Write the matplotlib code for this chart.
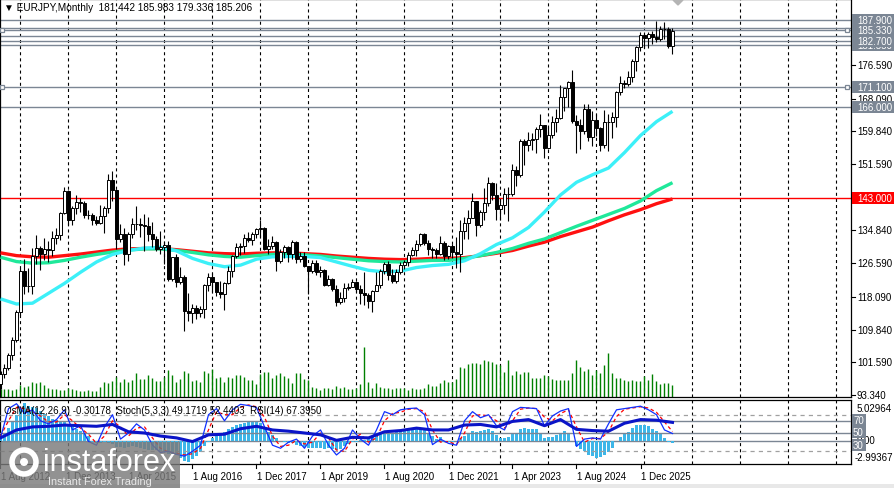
import matplotlib
matplotlib.use('Agg')
import matplotlib.pyplot as plt
import matplotlib.transforms as mtrans
from matplotlib.patches import Rectangle, Circle, Polygon
from matplotlib.lines import Line2D

plt.rcParams['font.family'] = ['Liberation Sans', 'DejaVu Sans']
plt.rcParams['lines.scale_dashes'] = False

# ---- EURJPY monthly, bar 0 = Aug 2012 ----
open_first = 96.2
closes = [
    98.6, 100.2, 103.4, 107.2, 114.4,
    124.5, 120.8, 120.8, 128.3, 130.5, 129.0, 130.1, 129.8, 133.0, 133.6, 139.2, 144.8,
    137.6, 140.6, 142.1, 141.8, 138.8, 138.7, 137.6, 136.7, 138.4, 140.6, 147.7, 145.0,
    132.6, 134.0, 128.9, 134.0, 136.4, 136.5, 136.1, 135.9, 133.9, 132.7, 130.1, 130.6,
    131.2, 122.5, 128.1, 121.9, 123.2, 114.6, 114.0, 115.4, 113.9, 115.1, 121.2, 123.0,
    121.8, 119.2, 118.7, 121.5, 124.5, 128.3, 130.6, 131.0, 132.9, 132.4, 133.9, 135.2,
    135.5, 130.1, 131.0, 132.0, 127.2, 129.3, 130.8, 128.8, 131.9, 127.7, 128.5, 125.8,
    124.7, 126.7, 124.4, 124.9, 121.0, 122.7, 120.2, 116.8, 117.8, 120.4, 120.7, 121.9,
    120.2, 119.0, 118.6, 117.1, 119.7, 121.2, 124.7, 126.4, 123.7, 122.0, 124.4, 126.2,
    127.0, 128.7, 129.8, 131.4, 134.0, 131.8, 130.2, 129.9, 128.9, 131.8, 128.4, 130.9,
    129.3, 129.0, 134.7, 136.8, 138.1, 142.2, 136.2, 139.6, 141.8, 146.9, 143.8, 140.3,
    141.3, 144.1, 144.0, 150.2, 148.9, 157.4, 156.5, 157.7, 157.9, 160.4, 161.4, 155.7,
    158.9, 162.1, 163.3, 168.4, 170.7, 172.3, 162.5, 161.5, 160.0, 165.4, 158.5, 162.7,
    160.8, 156.3, 162.2, 162.1, 163.4, 169.8, 172.1, 171.8, 173.6, 177.6, 181.1, 184.1,
    183.5, 184.4, 183.6, 183.2, 185.6, 185.7, 181.442, 185.206,
]
highs = [
    99.3, 101.2, 104.0, 108.0, 114.7,
    125.4, 127.7, 125.5, 130.5, 133.8, 131.0, 133.0, 132.3, 134.6, 135.5, 139.4, 145.7,
    145.0, 140.9, 143.8, 143.0, 142.2, 139.9, 139.3, 138.4, 141.2, 140.9, 149.1, 149.8,
    145.2, 136.4, 135.5, 134.5, 138.0, 141.1, 138.0, 139.0, 138.3, 137.0, 133.5, 134.6,
    132.3, 132.3, 128.2, 129.0, 125.7, 123.7, 119.0, 116.3, 116.0, 115.9, 121.4, 124.1,
    124.1, 121.9, 122.0, 121.9, 125.8, 128.7, 131.7, 131.8, 134.0, 134.5, 134.4, 135.5,
    137.5, 135.6, 132.7, 133.5, 132.2, 130.1, 131.1, 131.0, 132.5, 132.2, 129.3, 129.3,
    126.0, 127.5, 127.5, 125.9, 125.1, 123.5, 122.9, 121.2, 119.4, 121.5, 121.5, 122.6,
    122.0, 121.0, 124.4, 119.0, 119.9, 124.4, 125.1, 126.8, 127.1, 125.1, 125.1, 127.0,
    127.5, 129.3, 130.7, 132.4, 134.1, 134.1, 132.4, 130.7, 130.5, 133.5, 132.2, 131.1,
    131.5, 133.2, 137.5, 138.3, 140.0, 144.3, 142.3, 140.0, 145.6, 148.4, 147.0, 146.7,
    142.9, 145.6, 145.7, 151.6, 151.0, 157.9, 158.0, 159.8, 159.4, 160.9, 164.3, 161.4,
    161.0, 163.7, 165.4, 171.6, 170.9, 172.5, 175.4, 163.9, 163.0, 166.7, 166.7, 164.9,
    164.3, 161.0, 165.2, 164.2, 164.8, 170.0, 173.9, 172.9, 175.0, 178.1, 181.5, 184.9,
    184.9, 184.9, 185.2, 187.8, 186.4, 187.4, 186.3, 185.983,
]
lows = [
    94.9, 97.6, 99.6, 102.2, 106.8,
    113.4, 118.8, 119.2, 118.8, 126.5, 124.8, 127.5, 127.0, 128.5, 131.5, 132.5, 139.0,
    136.2, 136.2, 139.0, 139.5, 137.9, 137.7, 136.2, 136.2, 136.5, 134.1, 139.3, 142.3,
    130.2, 132.0, 126.1, 127.2, 133.0, 135.0, 133.3, 129.7, 132.2, 130.7, 129.7, 129.0,
    126.4, 122.0, 122.0, 120.6, 121.4, 109.5, 112.0, 111.6, 112.6, 113.0, 112.8, 119.5,
    119.3, 118.3, 117.8, 114.8, 121.4, 123.2, 127.8, 128.6, 129.2, 131.9, 131.2, 132.9,
    133.3, 129.8, 128.9, 130.2, 124.6, 126.6, 127.9, 126.9, 127.6, 126.6, 126.8, 125.6,
    118.7, 124.0, 123.6, 123.0, 120.8, 120.8, 119.6, 115.9, 116.3, 116.7, 119.8, 120.5,
    119.2, 116.2, 116.1, 115.4, 114.4, 119.5, 120.3, 123.9, 122.4, 121.7, 121.7, 123.8,
    125.1, 125.9, 128.3, 128.5, 131.0, 131.1, 128.6, 127.9, 127.9, 128.7, 127.4, 127.7,
    127.9, 125.4, 124.4, 132.7, 132.7, 138.0, 133.4, 135.6, 137.4, 141.0, 142.5, 137.4,
    137.4, 139.0, 137.3, 143.5, 146.1, 148.4, 151.4, 155.0, 155.2, 154.5, 158.5, 153.2,
    155.5, 158.1, 159.6, 162.9, 165.0, 166.0, 162.0, 154.4, 155.3, 159.3, 157.5, 156.2,
    158.8, 154.8, 155.7, 155.0, 158.3, 161.0, 168.9, 170.8, 171.2, 172.4, 175.1, 180.0,
    181.0, 180.8, 182.0, 182.4, 182.6, 183.1, 180.8, 179.336,
]
# tick volume (relative bar heights)
volumes = [
    23, 23, 23, 20, 23, 36, 31, 34, 44, 41,
    44, 36, 28, 23, 23, 20, 20, 26, 23, 20,
    17, 17, 20, 17, 17, 31, 44, 41, 48, 61,
    44, 53, 44, 50, 71, 55, 53, 67, 58, 48,
    48, 61, 82, 65, 44, 53, 78, 71, 47, 50,
    45, 79, 71, 85, 58, 61, 44, 61, 58, 65,
    67, 61, 50, 50, 38, 69, 76, 74, 58, 67,
    71, 64, 58, 41, 73, 71, 55, 50, 31, 28,
    20, 28, 26, 23, 34, 26, 31, 23, 23, 26,
    38, 150, 44, 28, 41, 31, 28, 28, 23, 28,
    26, 26, 20, 26, 23, 23, 26, 38, 33, 34,
    41, 52, 44, 44, 55, 91, 88, 98, 103, 101,
    98, 112, 108, 105, 98, 97, 74, 110, 67, 77,
    70, 74, 74, 58, 58, 58, 67, 64, 55, 50,
    52, 50, 50, 71, 110, 91, 77, 84, 67, 80,
    71, 95, 131, 71, 58, 58, 50, 47, 52, 47,
    47, 63, 50, 68, 47, 38, 41, 42, 37,
]

# moving averages, read every 4 bars
ma_idx = list(range(0, 169, 4))
ma_cyan = [117.6, 116.3, 116.5, 119.0, 121.5, 124.3, 126.9, 128.8, 129.8, 130.4, 130.6,
           129.7, 127.8, 126.5, 125.7, 126.1, 127.6, 128.2, 128.3, 128.3, 128.0, 126.9,
           125.8, 124.8, 124.4, 124.6, 125.5, 126.0, 126.3, 127.2, 129.0, 131.3, 133.0,
           135.6, 139.5, 143.8, 147.0, 148.9, 150.6, 154.5, 158.8, 162.3, 164.9]
ma_green = [128.1, 127.0, 126.6, 126.7, 127.3, 128.1, 128.8, 129.4, 129.9, 130.2, 130.2,
            129.8, 129.3, 128.7, 128.3, 128.1, 128.5, 128.8, 128.9, 128.7, 128.4, 128.0,
            127.6, 127.2, 127.0, 126.9, 127.1, 127.3, 127.3, 127.8, 128.5, 129.3, 130.3,
            131.6, 132.7, 134.3, 135.9, 137.4, 138.9, 140.4, 142.3, 144.9, 146.9]
ma_red = [129.2, 128.5, 128.2, 128.1, 128.5, 128.9, 129.4, 129.9, 130.2, 130.3, 130.3,
          130.0, 129.6, 129.2, 129.0, 128.9, 129.1, 129.2, 129.2, 129.0, 128.8, 128.4,
          128.1, 127.8, 127.6, 127.5, 127.6, 127.8, 127.8, 128.0, 128.5, 129.1, 129.8,
          130.9, 131.9, 133.3, 134.5, 135.7, 137.3, 138.8, 140.1, 141.6, 142.8]

# OsMA(12,26,9) per bar
osma = [
    0.4, 0.9, 1.6, 2.4, 3.2, 4.0, 4.6, 4.3, 4.2, 4.1,
    3.7, 3.3, 3.0, 2.7, 2.5, 2.3, 2.4, 2.0, 1.7, 1.5,
    1.2, 0.9, 0.6, -0.2, -0.3, -0.3, -0.2, -0.3, -0.4, -0.8,
    -0.8, -0.9, -0.8, -0.7, -0.8, -0.9, -1.0, -1.1, -1.2, -1.2,
    -1.3, -1.4, -1.6, -1.6, -1.8, -2.1, -2.5, -2.6, -2.3, -1.9,
    -1.4, -0.7, -0.1, 0.3, 0.6, 0.8, 1.1, 1.4, 1.7, 1.9,
    2.1, 2.2, 2.3, 2.3, 2.3, 2.2, 1.6, 1.1, 0.7, 0.3,
    0.0, -0.1, -0.3, -0.3, -0.5, -0.6, -0.8, -0.9, -0.9, -0.9,
    -0.9, -1.0, -0.9, -1.0, -1.2, -1.0, -0.7, -0.4, -0.2, -0.1,
    0.1, 0.1, 0.2, 0.4, 0.6, 0.8, 1.0, 1.0, 1.0, 1.1,
    1.2, 1.3, 1.3, 1.4, 1.4, 1.5, 1.3, 1.0, 0.6, 0.2,
    0.4, -0.2, -0.2, -0.2, 0.0, 0.3, 0.6, 0.9, 1.2, 1.1,
    1.2, 1.3, 1.4, 1.2, 0.7, 0.3, 0.3, 0.4, 0.8, 1.0,
    1.5, 1.6, 1.5, 1.5, 1.5, 1.0, 0.3, 0.4, 0.5, 0.7,
    1.0, 1.2, 0.9, 0.0, -0.6, -1.0, -1.3, -1.8, -1.9, -2.2,
    -2.0, -1.8, -1.4, -0.9, 0.0, 0.5, 0.8, 1.1, 1.6, 1.9,
    2.0, 2.0, 1.8, 1.5, 1.2, 0.8, 0.3, -0.1, -0.30178,
]

# Stochastic(5,3,3), read every 2 bars
st_idx = list(range(0, 169, 2))
stoch_main = [42, 90, 98, 82, 88, 70, 65, 72, 88, 55, 62, 36, 30, 60, 80, 40, 50, 65, 55, 30,
              18, 20, 15, 12, 20, 30, 80, 90, 70, 88, 97, 95, 92, 60, 30, 25, 35, 40, 25, 45,
              55, 30, 14, 25, 55, 40, 30, 55, 85, 80, 88, 90, 91, 80, 31, 40, 33, 30, 70, 85,
              75, 80, 62, 55, 85, 92, 91, 90, 62, 78, 86, 90, 28, 40, 42, 40, 65, 88, 90, 92,
              94, 88, 80, 55, 49.17]
stoch_sig = [45, 70, 92, 90, 85, 78, 68, 68, 80, 70, 58, 48, 33, 45, 70, 60, 45, 58, 60, 42,
             25, 19, 17, 14, 16, 25, 55, 85, 80, 80, 92, 96, 93, 76, 45, 28, 30, 38, 32, 35,
             50, 42, 22, 20, 40, 48, 35, 42, 70, 82, 84, 89, 90, 85, 55, 35, 36, 31, 50, 78,
             80, 78, 70, 58, 70, 89, 91, 90, 76, 70, 82, 88, 60, 35, 41, 41, 52, 77, 89, 91,
             93, 91, 84, 68, 52.44]

# RSI(14), read every 4 bars
rsi_idx = list(range(0, 169, 4))
rsi = [42, 55, 60, 61, 63, 62, 61, 64, 52, 50, 45, 42, 36, 47, 48, 57, 61, 55, 53, 50, 47,
       38, 43, 42, 52, 54, 58, 55, 55, 63, 64, 60, 69, 72, 62, 72, 56, 54, 53, 66, 72, 71,
       67.395]

date_idx = [0, 16, 32, 48, 64, 80, 96, 112, 128, 144, 160]
date_labels = ['1 Aug 2012', '1 Dec 2013', '1 Apr 2015', '1 Aug 2016', '1 Dec 2017',
               '1 Apr 2019', '1 Aug 2020', '1 Dec 2021', '1 Apr 2023', '1 Aug 2024',
               '1 Dec 2025']
price_ticks = [176.59, 168.09, 159.84, 151.59, 134.84, 126.59, 118.09, 109.84, 101.59, 93.34]
grey_levels = [187.9, 186.0, 185.33, 183.8, 182.7, 181.55, 171.1, 166.0]
boxed_levels = [187.9, 185.33, 181.55, 182.7, 171.1, 166.0]
red_level = 143.0

W, H = 895, 489
LEVEL = '#7b8694'


def fx(px):
    return px / W


def fy(py):
    return 1 - py / H


def price_px(p):
    return 396 - (p - 93.34) * 3.964


fig = plt.figure(figsize=(W / 100, H / 100), dpi=100)
fig.patch.set_facecolor('white')

# ---------------- main chart ----------------
ax = fig.add_axes([0, fy(398), 851 / W, 398 / H])
ax.set_xlim(-0.125, 212.625)
ax.set_ylim(92.835, 193.24)
ax.set_xticks([])
ax.set_yticks([])
for s in ax.spines.values():
    s.set_linewidth(0.9)

for i in range(5, 213, 12):
    ax.axvline(i, color='black', lw=0.8, ls=(0, (2.2, 2.2)), zorder=1)

n = len(closes)
xs = list(range(n))
opens = [open_first] + closes[:-1]

vtrans = mtrans.blended_transform_factory(ax.transData, ax.transAxes)
ax.vlines(xs, 0, [v / (3 * 398) for v in volumes], color='#008000', lw=1.0,
          transform=vtrans, zorder=2)

for lv in grey_levels:
    ax.axhline(lv, color=LEVEL, lw=1.0, zorder=2)
ax.axhline(red_level, color='red', lw=1.0, zorder=2)
for lv in [185.33, 171.1]:
    ax.plot([0.4, 211.6], [lv, lv], ls='none', marker='s', ms=3.5, mfc='white',
            mec=LEVEL, mew=0.9, zorder=3)

ax.plot(ma_idx, ma_red, color='#ff1010', lw=2.4, zorder=3, solid_capstyle='butt')
ax.plot(ma_idx, ma_green, color='#1fe89a', lw=2.4, zorder=3, solid_capstyle='butt')
ax.plot(ma_idx, ma_cyan, color='#3cf0f8', lw=2.4, zorder=3, solid_capstyle='butt')

ax.vlines(xs, lows, highs, color='black', lw=0.8, zorder=4)
for i in xs:
    o, c = opens[i], closes[i]
    bottom = min(o, c)
    h = max(abs(c - o), 0.15)
    fc = 'white' if c >= o else 'black'
    ax.bar(i, h, bottom=bottom, width=0.62, facecolor=fc, edgecolor='black',
           lw=0.7, zorder=5)

fig.add_artist(Polygon([(fx(673), fy(1)), (fx(683), fy(1)), (fx(678), fy(6))],
                       closed=True, color='#b4b4b4', transform=fig.transFigure))

fig.text(fx(4), fy(8), '\u25bc EURJPY,Monthly  181.442 185.983 179.336 185.206',
         fontsize=7.2, va='center', ha='left')

# price axis labels
for p in price_ticks:
    py = price_px(p)
    fig.add_artist(Line2D([fx(851), fx(855)], [fy(py), fy(py)], color='black', lw=0.8))
    fig.text(fx(857), fy(py), f'{p:.3f}', fontsize=7, va='center', ha='left')

z = 20
for lv in boxed_levels:
    py = price_px(lv)
    fig.add_artist(Rectangle((fx(852), fy(py + 6)), fx(43), 12 / H, fc=LEVEL, ec='none',
                             transform=fig.transFigure, zorder=z))
    fig.text(fx(857), fy(py), f'{lv:.3f}', fontsize=7, color='white', va='center',
             ha='left', zorder=z + 1)
    z += 2
py = price_px(red_level)
fig.add_artist(Rectangle((fx(852), fy(py + 6)), fx(43), 12 / H, fc='#ff0000', ec='none',
                         transform=fig.transFigure, zorder=z))
fig.text(fx(857), fy(py), '143.000', fontsize=7, color='white', va='center', ha='left',
         zorder=z + 1)

# ---------------- indicator panel ----------------
iax = fig.add_axes([0, fy(465), 851 / W, 64 / H])
iax.set_xlim(-0.125, 212.625)
iax.set_ylim(-2.88, 5.03)
iax.set_xticks([])
iax.set_yticks([])
for s in iax.spines.values():
    s.set_linewidth(0.9)
for i in range(5, 213, 12):
    iax.axvline(i, color='black', lw=0.8, ls=(0, (2.2, 2.2)), zorder=1)
iax.axhline(0, color=LEVEL, lw=1.0, zorder=2)
iax.bar(xs, osma, width=0.6, color='#3db6e8', zorder=3)

sax = iax.twinx()
sax.set_ylim(-0.8, 104.1)
sax.set_yticks([])
for s in sax.spines.values():
    s.set_visible(False)
for lv in [80, 20]:
    sax.axhline(lv, color='#a0a0a0', lw=0.9, ls=(0, (3, 3)), zorder=2)
for lv in [70, 50]:
    sax.axhline(lv, color=LEVEL, lw=1.0, zorder=2)
sax.plot(st_idx, stoch_sig, color='red', lw=0.9, ls=(0, (2.5, 2)), zorder=4)
sax.plot(st_idx, stoch_main, color='#1030ff', lw=0.9, zorder=5)
sax.plot(rsi_idx, rsi, color='#0a14c8', lw=2.2, zorder=6)

fig.text(fx(4), fy(411), 'OsMA(12,26,9) -0.30178  Stoch(5,3,3) 49.1719 52.4403  RSI(14) 67.3950',
         fontsize=7, va='center', ha='left', zorder=8)

fig.text(fx(857), fy(409), '5.02964', fontsize=7, va='center', ha='left')
fig.text(fx(857), fy(441), '0.00', fontsize=7, va='center', ha='left')
fig.text(fx(855), fy(458), '-2.99367', fontsize=7, va='center', ha='left')
for lab, py in [('70', 421), ('50', 433), ('30', 446)]:
    fig.add_artist(Rectangle((fx(852), fy(py + 6)), fx(14), 12 / H, fc=LEVEL, ec='none',
                             transform=fig.transFigure, zorder=20))
    fig.text(fx(853), fy(py), lab, fontsize=7, color='white', va='center', ha='left',
             zorder=21)

# ---------------- date axis ----------------
for i, lab in zip(date_idx, date_labels):
    px = (i + 0.125) * 4
    fig.add_artist(Line2D([fx(px), fx(px)], [fy(465), fy(469)], color='black', lw=0.8))
    fig.text(fx(px + 1), fy(477), lab, fontsize=7, va='center', ha='left')
fig.add_artist(Rectangle((0, 0), 1, 4 / H, fc='#e8e8e8', ec='none',
                         transform=fig.transFigure))

# ---------------- watermark ----------------
fig.add_artist(Rectangle((0, 0), fx(180), 46 / H, fc='#7a7a7a', ec='none', alpha=0.82,
                         transform=fig.transFigure, zorder=30))
fig.add_artist(Circle((24, H - 463), 12, fill=False, ec='white', lw=4.0,
                      transform=mtrans.IdentityTransform(), zorder=31))
fig.add_artist(Circle((24, H - 463), 4, fc='white', ec='none',
                      transform=mtrans.IdentityTransform(), zorder=31))
fig.text(fx(43), fy(463), 'instaforex', fontsize=22, color='white', va='center',
         ha='left', zorder=32)
fig.text(fx(48), fy(482), 'Instant Forex Trading', fontsize=7.8, color='#e8e8e8',
         va='center', ha='left', zorder=32)

fig.savefig('out.png', dpi=100)
